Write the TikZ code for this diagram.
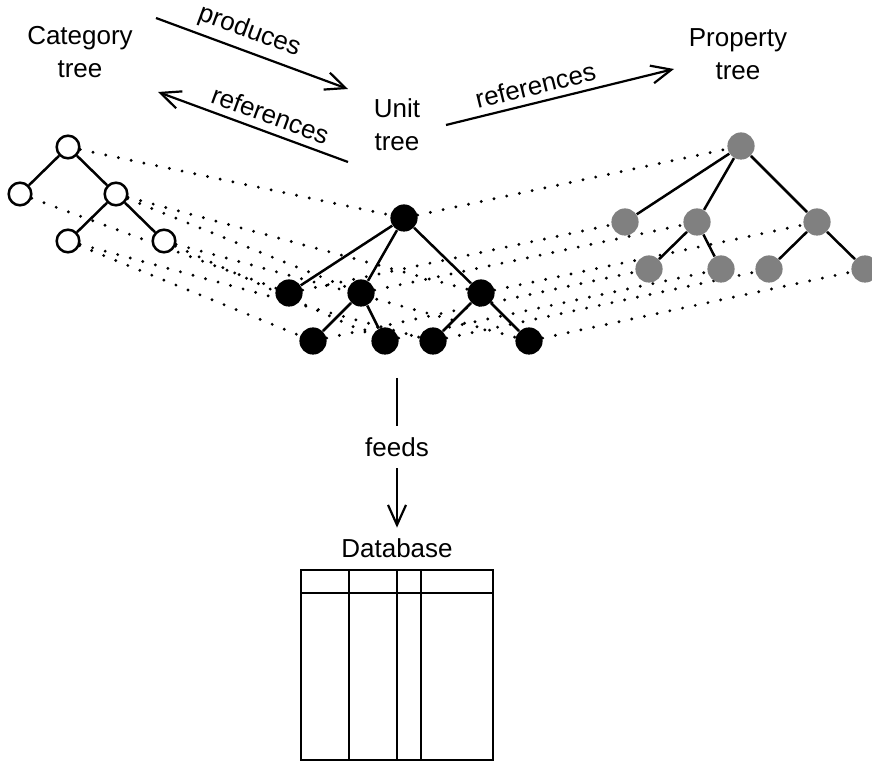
\documentclass[tikz,border=0pt]{standalone}
\usepackage{fontspec}
\setmainfont{Liberation Sans}
\usetikzlibrary{arrows.meta,backgrounds}
\begin{document}
\begin{tikzpicture}[x=0.5pt,y=-0.5pt,
  font=\fontsize{13}{16.5}\selectfont,
  catnode/.style={circle,draw=black,fill=white,line width=1.25pt,minimum size=11.3pt,inner sep=0pt},
  unitnode/.style={circle,fill=black,minimum size=13.6pt,inner sep=0pt},
  propnode/.style={circle,fill=gray,minimum size=13.6pt,inner sep=0pt},
  tedge/.style={line width=1.25pt},
  link/.style={line width=1.6pt,line cap=round,dash pattern=on 0pt off 6.5pt},
  flow/.style={line width=1.1pt,-{Straight Barb[length=10pt,width=9pt,line width=1.1pt]}},
  title/.style={anchor=base,align=center},
  tablestroke/.style={line width=1.4pt}
]
\useasboundingbox (0,0) rectangle (872,764);

% category tree
\node[catnode] (c1) at (68,147) {};
\node[catnode] (c2) at (20,194) {};
\node[catnode] (c3) at (116,194) {};
\node[catnode] (c4) at (68,241) {};
\node[catnode] (c5) at (164,241) {};
\draw[tedge] (c1) -- (c2) (c1) -- (c3) (c3) -- (c4) (c3) -- (c5);

% unit tree
\node[unitnode] (u1) at (404,218) {};
\node[unitnode] (u2) at (289,293) {};
\node[unitnode] (u3) at (361,293) {};
\node[unitnode] (u4) at (481,293) {};
\node[unitnode] (u5) at (313,341) {};
\node[unitnode] (u6) at (385,341) {};
\node[unitnode] (u7) at (433,341) {};
\node[unitnode] (u8) at (529,341) {};
\draw[tedge] (u1) -- (u2) (u1) -- (u3) (u1) -- (u4)
  (u3) -- (u5) (u3) -- (u6) (u4) -- (u7) (u4) -- (u8);

% property tree
\node[propnode] (p1) at (741,146) {};
\node[propnode] (p2) at (625,222) {};
\node[propnode] (p3) at (697,222) {};
\node[propnode] (p4) at (817,222) {};
\node[propnode] (p5) at (649,269) {};
\node[propnode] (p6) at (721,269) {};
\node[propnode] (p7) at (769,269) {};
\node[propnode] (p8) at (865,269) {};
\draw[tedge] (p1) -- (p2) (p1) -- (p3) (p1) -- (p4)
  (p3) -- (p5) (p3) -- (p6) (p4) -- (p7) (p4) -- (p8);

% correspondences between the trees
\begin{scope}[on background layer]
  \draw[link] (c1) -- (u1) (c2) -- (u2) (c3) -- (u3) (c3) -- (u4)
    (c4) -- (u5) (c5) -- (u6) (c4) -- (u7) (c5) -- (u8);
  \foreach \i in {1,...,8} { \draw[link] (u\i) -- (p\i); }
\end{scope}

% tree titles (anchored at the baseline of the last line)
\node[title] (cattitle) at (80,78) {Category\\tree};
\node[title] (unittitle) at (397,151) {Unit\\tree};
\node[title] (proptitle) at (738,80) {Property\\tree};

% relations between the trees
\coordinate (prodA) at (156,18);
\coordinate (prodB) at (348,89);
\draw[flow] (prodA) -- node[sloped,above,pos=0.45] (prodlabel) {produces} (prodB);
\coordinate (refLA) at (348,162);
\coordinate (refLB) at (158,92);
\draw[flow] (refLA) -- node[sloped,above,pos=0.44] (reflabel) {references} (refLB);
\coordinate (refRA) at (446,125);
\coordinate (refRB) at (674,69);
\draw[flow] (refRA) -- node[sloped,above,pos=0.41] (refrlabel) {references} (refRB);

% unit tree feeds the database
\coordinate (feedtop) at (397,378);
\node[inner sep=0pt,minimum height=21pt] (feeds) at (397,447) {feeds};
\node[anchor=base,inner ysep=5pt,text height=9.5pt] (dbtitle) at (397,557) {Database};
\draw[line width=1.1pt] (feedtop) -- (feeds);
\draw[flow] (feeds) -- (dbtitle);

% database table
\draw[tablestroke] (301,570) rectangle (493,760);
\draw[tablestroke] (301,593) -- (493,593)
  (349,570) -- (349,760) (397,570) -- (397,760) (421,570) -- (421,760);
\end{tikzpicture}
\end{document}
